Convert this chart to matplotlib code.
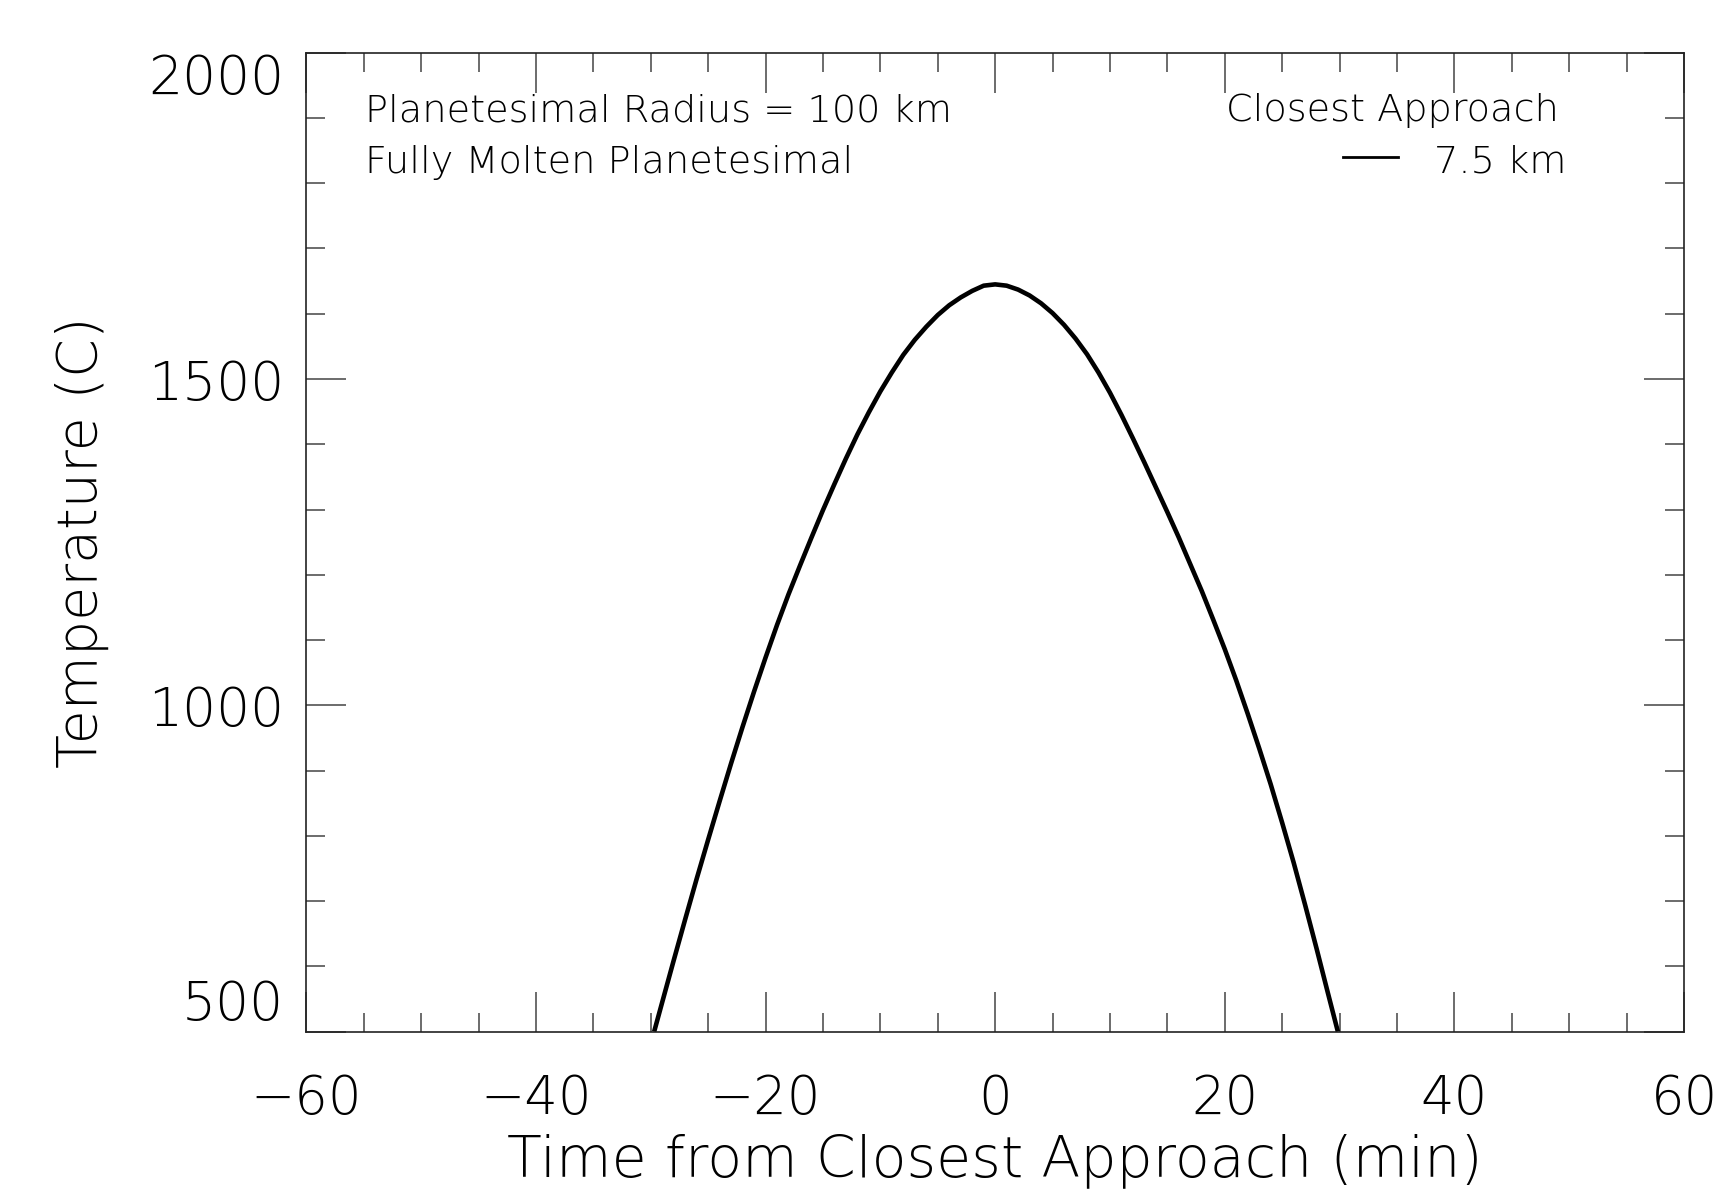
import matplotlib
matplotlib.use("Agg")
import matplotlib.pyplot as plt
from matplotlib.ticker import MultipleLocator

# Data (temperature at closest approach of 7.5 km)
time_min = [-29.7, -29, -28, -27, -26, -25, -24, -23, -22, -21, -20, -19, -18, -17, -16,
            -15, -14, -13, -12, -11, -10, -9, -8, -7, -6, -5, -4, -3, -2, -1,
            0, 1, 2, 3, 4, 5, 6, 7, 8, 9, 10, 11, 12, 13, 14, 15,
            16, 17, 18, 19, 20, 21, 22, 23, 24, 25, 26, 27, 28, 29, 29.85]
temperature_c = [500, 545, 609, 672, 734, 794, 853, 911, 967, 1021, 1073, 1123, 1170, 1214, 1257,
                 1299, 1339, 1378, 1415, 1449, 1481, 1510, 1537, 1560, 1580, 1598, 1613, 1625, 1635, 1643,
                 1645, 1643, 1637, 1628, 1616, 1601, 1583, 1562, 1538, 1510, 1479, 1445, 1409, 1372, 1334, 1296,
                 1257, 1216, 1175, 1131, 1086, 1038, 987, 934, 879, 820, 759, 694, 627, 558, 500]

x_ticks = [-60, -40, -20, 0, 20, 40, 60]
y_ticks = [500, 1000, 1500, 2000]

plt.rcParams['font.family'] = ['DejaVu Sans']
plt.rcParams['font.weight'] = 'light'
plt.rcParams['axes.labelweight'] = 'light'
W, H = 1723, 1189
fig = plt.figure(figsize=(W / 100, H / 100), dpi=100)
ax_l, ax_r, ax_t, ax_b = 306.3, 1684.0, 52.7, 1031.6
ax = fig.add_axes([ax_l / W, 1 - ax_b / H, (ax_r - ax_l) / W, (ax_b - ax_t) / H])

ax.plot(time_min, temperature_c, color='black', lw=3.3, solid_capstyle='butt', solid_joinstyle='round')

ax.set_xlim(-60, 60)
ax.set_ylim(500, 2000)
ax.set_xticks(x_ticks)
ax.set_yticks(y_ticks)
ax.set_xticklabels([f"{v:d}".replace('-', '\u2212') for v in x_ticks])
ax.set_yticklabels([str(v) for v in y_ticks])
ax.xaxis.set_minor_locator(MultipleLocator(5))
ax.yaxis.set_minor_locator(MultipleLocator(100))

for s in ax.spines.values():
    s.set_linewidth(1.2)
    s.set_color('#222222')

ax.tick_params(which='both', direction='in', top=True, right=True, color='#444444', width=1.1)
ax.tick_params(which='major', length=29)
ax.tick_params(which='minor', length=14)
ax.tick_params(axis='x', which='major', labelsize=38, pad=30)
ax.tick_params(axis='y', which='major', labelsize=38.5, pad=16)

ylabs = ax.get_yticklabels()
ylabs[0].set_va('bottom')
ylabs[-1].set_va('top')

ax.set_xlabel('Time from Closest Approach (min)', fontsize=41, fontweight='light')
ax.xaxis.set_label_coords(0.5, (ax_b - 1176) / (ax_b - ax_t))
ax.xaxis.label.set_va('baseline')
ax.set_ylabel('Temperature (C)', fontsize=40, fontweight='light')
ax.yaxis.set_label_coords((82 - ax_l) / (ax_r - ax_l), 0.5)
ax.yaxis.label.set_va('center')

fs = 27.5
fig.text(365 / W, 1 - 121 / H, 'Planetesimal Radius = 100 km', fontsize=fs, va='baseline', ha='left')
fig.text(365 / W, 1 - 172.5 / H, 'Fully Molten Planetesimal', fontsize=fs, va='baseline', ha='left')
fig.text(1226 / W, 1 - 121 / H, 'Closest Approach', fontsize=fs, va='baseline', ha='left')
fig.text(1434 / W, 1 - 172.5 / H, '7.5 km', fontsize=fs, va='baseline', ha='left')
fig.add_artist(plt.Line2D([1343 / W, 1398 / W], [1 - 157 / H, 1 - 157 / H], color='black', lw=2.0,
                          transform=fig.transFigure))

fig.savefig('out.png', dpi=100)
